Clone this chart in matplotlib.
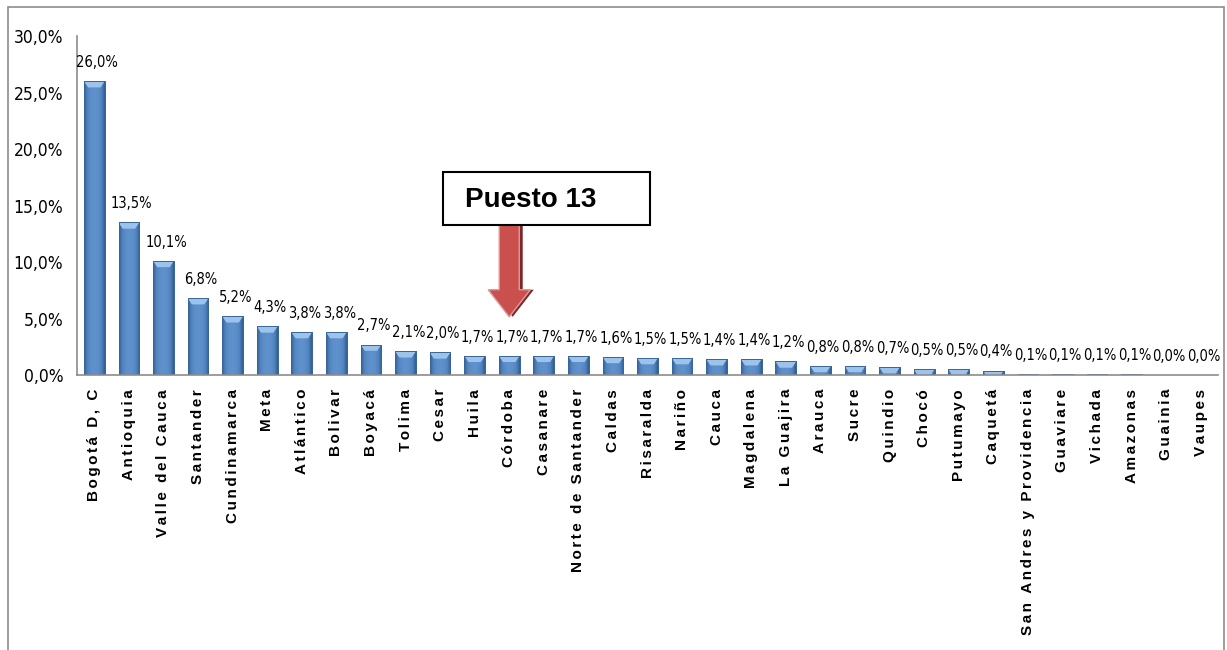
import numpy as np
import matplotlib
matplotlib.use("Agg")
import matplotlib.pyplot as plt
from matplotlib.patches import Rectangle, Polygon, FancyArrow

# Data
departamentos = [
    "Bogotá D, C", "Antioquia", "Valle del Cauca", "Santander", "Cundinamarca",
    "Meta", "Atlántico", "Bolivar", "Boyacá", "Tolima", "Cesar", "Huila",
    "Córdoba", "Casanare", "Norte de Santander", "Caldas", "Risaralda", "Nariño",
    "Cauca", "Magdalena", "La Guajira", "Arauca", "Sucre", "Quindio", "Chocó",
    "Putumayo", "Caquetá", "San Andres y Providencia", "Guaviare", "Vichada",
    "Amazonas", "Guainia", "Vaupes",
]
participacion = [
    26.0, 13.5, 10.1, 6.8, 5.2, 4.3, 3.8, 3.8, 2.7, 2.1, 2.0, 1.7, 1.7, 1.7,
    1.7, 1.6, 1.5, 1.5, 1.4, 1.4, 1.2, 0.8, 0.8, 0.7, 0.5, 0.5, 0.4, 0.1, 0.1,
    0.1, 0.1, 0.0, 0.0,
]
y_ticks = [0, 5, 10, 15, 20, 25, 30]
puesto = 13

narrow = ["DejaVu Sans"]
bold_font = ["Liberation Sans", "DejaVu Sans"]
GAP = "\u200a\u200a"  # letter spacing like the original labels

fig = plt.figure(figsize=(12.27, 6.5), dpi=100)
ax = fig.add_axes([0.0628, 0.423, 0.9299, 0.5216])

x = np.arange(len(departamentos))
bars = ax.bar(x, participacion, width=0.6, color="#4f81bd",
              edgecolor="#3b6595", linewidth=0.6, zorder=2)

# gradient + bevel on each bar
grad = np.linspace(-1, 1, 64)
grad = 1 - grad ** 2
grad = grad[np.newaxis, :]
cmap = matplotlib.colors.LinearSegmentedColormap.from_list(
    "barblue", ["#2f5b8f", "#4f81bd", "#5f91cd"])
bevel_h = 0.55
for b in bars:
    h = b.get_height()
    if h <= 0:
        continue
    bx, bw = b.get_x(), b.get_width()
    im = ax.imshow(grad, cmap=cmap, aspect="auto", extent=(bx, bx + bw, 0, h),
                   zorder=2.1, interpolation="bicubic")
    im.set_clip_path(b)
    bev = Polygon([(bx, h), (bx + bw, h), (bx + bw * 0.8, h - bevel_h),
                   (bx + bw * 0.2, h - bevel_h)], closed=True,
                  facecolor="#9cc3ec", edgecolor="none", zorder=2.2)
    ax.add_patch(bev)
    bev.set_clip_path(b)
    edge = Rectangle((bx, 0), bw, h, facecolor="none", edgecolor="#3b6595",
                     linewidth=0.7, zorder=2.3)
    ax.add_patch(edge)

for xi, v in zip(x, participacion):
    ax.annotate(f"{v:.1f}%".replace(".", ","), (xi, v), xytext=(2, 8),
                textcoords="offset points", ha="center", va="bottom",
                fontsize=10.5, family=narrow, fontstretch="condensed")

ax.set_xlim(-0.5, len(departamentos) - 0.5)
ax.set_ylim(0, 30)
ax.set_yticks(y_ticks)
ax.set_yticklabels([f"{t:.1f}%".replace(".", ",") for t in y_ticks],
                   fontsize=12.5, family=narrow, fontstretch="condensed")
ax.set_xticks(x)
ax.set_xticklabels([GAP.join(d) for d in departamentos], rotation=90,
                   fontsize=11, fontweight="bold", family=bold_font)
ax.tick_params(axis="both", length=0)
ax.tick_params(axis="y", pad=10)
ax.tick_params(axis="x", pad=10)
for s in ["top", "right"]:
    ax.spines[s].set_visible(False)
for s in ["left", "bottom"]:
    ax.spines[s].set_color("#8c8c8c")
    ax.spines[s].set_linewidth(1.2)

# annotation: box + arrow pointing to Córdoba
idx = puesto - 1
ax.add_patch(Rectangle((idx - 1.92, 13.3), 5.99, 4.66, facecolor="white",
                       edgecolor="black", linewidth=1.5, zorder=4,
                       clip_on=False))
ax.text(idx - 1.28, 15.5, f"Puesto {puesto}", fontsize=20, fontweight="bold",
        family=bold_font, va="center", ha="left", zorder=5)
ax.add_patch(FancyArrow(idx + 0.1, 13.3, 0, -8.15, width=0.58, head_width=1.22,
                        head_length=2.4, length_includes_head=True,
                        facecolor="#7a2a28", edgecolor="none", zorder=3))
ax.add_patch(FancyArrow(idx, 13.3, 0, -8.15, width=0.58, head_width=1.22,
                        head_length=2.4, length_includes_head=True,
                        facecolor="#c9504d", edgecolor="#e09a98",
                        linewidth=1, zorder=3.1))

# outer frame
fig.patches.append(Rectangle((8 / 1227, -0.1), 1216 / 1227, 1.1 - 7 / 650,
                             transform=fig.transFigure, fill=False,
                             edgecolor="#8c8c8c", linewidth=1.2))

fig.savefig("out.png", dpi=100)
